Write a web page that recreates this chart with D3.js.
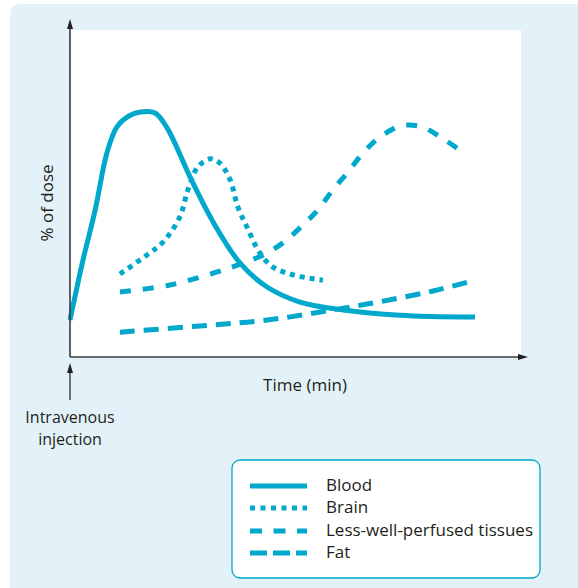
<!DOCTYPE html>
<html>
<head>
<meta charset="utf-8">
<script src="https://cdn.jsdelivr.net/npm/d3@7/dist/d3.min.js"></script>
<style>
  html, body { margin: 0; padding: 0; background: #ffffff; }
  svg { display: block; }
  text { font-family: "Open Sans", "Noto Sans", sans-serif; fill: #231f20; }
</style>
</head>
<body>
<svg id="chart" width="578" height="588"></svg>
<script>
// Time after injection (arbitrary units, 0–100) and % of dose (arbitrary units, 0–100)
const bloodTime  = [0, 2.9, 5.6, 8.2, 10.4, 13.1, 15.6, 18.9, 21.6, 26.7, 31.8, 37.8, 43.8, 51.1, 60.7, 73.3, 90];
const bloodDose  = [11.3, 29.7, 45, 62.4, 70.3, 73.7, 74.9, 74.6, 70, 55, 41.3, 28.7, 21.4, 16.8, 14.4, 12.8, 12.2];

const brainTime  = [11.1, 17.1, 20.7, 24.4, 26.2, 28.4, 31.1, 33.3, 35.6, 37.3, 39.3, 42.2, 45.1, 49.6, 56.2];
const brainDose  = [25.4, 31.2, 35.2, 42.8, 51.1, 58.1, 60.6, 59.3, 54.1, 45.9, 39.8, 31.8, 27.5, 25.1, 23.5];

const tissueTime = [11.1, 22.2, 32.7, 38.4, 42.9, 47.3, 51.8, 55.1, 58.4, 61.8, 65.1, 68.9, 73.3, 76.2, 78.9, 83.3, 88.2];
const tissueDose = [19.9, 22, 26, 28.7, 31.2, 34.9, 40.4, 45, 51.1, 56.6, 62.4, 67.3, 70.6, 70.9, 70, 66.4, 61.8];

const fatTime    = [11.1, 28.9, 43.8, 58.4, 69.6, 80.7, 90];
const fatDose    = [7.6, 9.5, 11.3, 14.4, 17.1, 20.2, 23.5];

const seriesNames = ["Blood", "Brain", "Less-well-perfused tissues", "Fat"];
const axisLabels  = ["Time (min)", "% of dose"];
const injectionLabel = ["Intravenous", "injection"];

const teal = "#00a8cc";
const dashes = ["none", "5 5", "11 12", "15 9"];
const legendDashes = ["none", "5 5.5", "12 11.5", "17 6"];

const svg = d3.select("#chart");

// outer tinted panel
svg.append("rect")
  .attr("x", 10).attr("y", 4).attr("width", 576).attr("height", 600)
  .attr("rx", 9).attr("fill", "#e3f2f8");

const x = d3.scaleLinear().domain([0, 100]).range([70, 520]);
const y = d3.scaleLinear().domain([0, 100]).range([357, 30]);

// white plotting area
svg.append("rect")
  .attr("x", x(0)).attr("y", y(100))
  .attr("width", x(100) - x(0) + 1).attr("height", y(0) - y(100))
  .attr("fill", "#ffffff");

// arrowhead marker
const defs = svg.append("defs");
defs.append("marker")
  .attr("id", "arrow")
  .attr("viewBox", "0 0 10 10")
  .attr("refX", 0).attr("refY", 5)
  .attr("markerWidth", 10).attr("markerHeight", 10)
  .attr("markerUnits", "userSpaceOnUse")
  .attr("orient", "auto")
  .append("path").attr("d", "M0,2 L10,5 L0,8 Z").attr("fill", "#231f20");

// series
const series = [
  [bloodTime, bloodDose],
  [brainTime, brainDose],
  [tissueTime, tissueDose],
  [fatTime, fatDose]
];
const line = d3.line()
  .x(d => x(d[0])).y(d => y(d[1]))
  .curve(d3.curveCatmullRom.alpha(0.5));

series.forEach(([t, v], i) => {
  svg.append("path")
    .datum(t.map((tt, k) => [tt, v[k]]))
    .attr("d", line)
    .attr("fill", "none")
    .attr("stroke", teal)
    .attr("stroke-width", 5)
    .attr("stroke-dasharray", dashes[i])
    .attr("stroke-linecap", "butt")
    .attr("stroke-linejoin", "round");
});

// axes with arrowheads
const xAxis = d3.axisBottom(x).tickValues([]).tickSizeOuter(0);
const gx = svg.append("g").attr("transform", `translate(0,${y(0)})`).call(xAxis);
gx.select(".domain").attr("stroke", "#3a3a3a").attr("stroke-width", 1.6)
  .attr("d", `M${x(0)},0H${x(100) - 2}`).attr("marker-end", "url(#arrow)");

const yAxis = d3.axisLeft(y).tickValues([]).tickSizeOuter(0);
const gy = svg.append("g").attr("transform", `translate(${x(0)},0)`).call(yAxis);
gy.select(".domain").attr("stroke", "#3a3a3a").attr("stroke-width", 1.6)
  .attr("d", `M0,${y(0)}V${y(100) - 1}`)
  .attr("marker-end", "url(#arrow)");

// axis titles
svg.append("text")
  .attr("x", 305).attr("y", 391)
  .attr("text-anchor", "middle")
  .attr("font-size", 17)
  .text(axisLabels[0]);

svg.append("text")
  .attr("transform", "translate(53,203) rotate(-90)")
  .attr("text-anchor", "middle")
  .attr("font-size", 17)
  .text(axisLabels[1]);

// injection marker
svg.append("line")
  .attr("x1", x(0)).attr("x2", x(0))
  .attr("y1", 400).attr("y2", 373)
  .attr("stroke", "#3a3a3a").attr("stroke-width", 1.4)
  .attr("marker-end", "url(#arrow)");
svg.selectAll("text.inj")
  .data(injectionLabel)
  .join("text")
  .attr("class", "inj")
  .attr("x", 70).attr("y", (d, i) => 423 + i * 22)
  .attr("text-anchor", "middle")
  .attr("font-size", 16)
  .text(d => d);

// legend
const lg = svg.append("g");
lg.append("rect")
  .attr("x", 232).attr("y", 460).attr("width", 308).attr("height", 118)
  .attr("rx", 8)
  .attr("fill", "#ffffff")
  .attr("stroke", teal).attr("stroke-width", 1.3);

const rowY = [486, 508, 531, 553];
seriesNames.forEach((name, i) => {
  lg.append("line")
    .attr("x1", 250).attr("x2", 307)
    .attr("y1", rowY[i]).attr("y2", rowY[i])
    .attr("stroke", teal).attr("stroke-width", 5)
    .attr("stroke-dasharray", legendDashes[i]);
  lg.append("text")
    .attr("x", 326).attr("y", rowY[i] + 5)
    .attr("font-size", 17)
    .text(name);
});
</script>
</body>
</html>
